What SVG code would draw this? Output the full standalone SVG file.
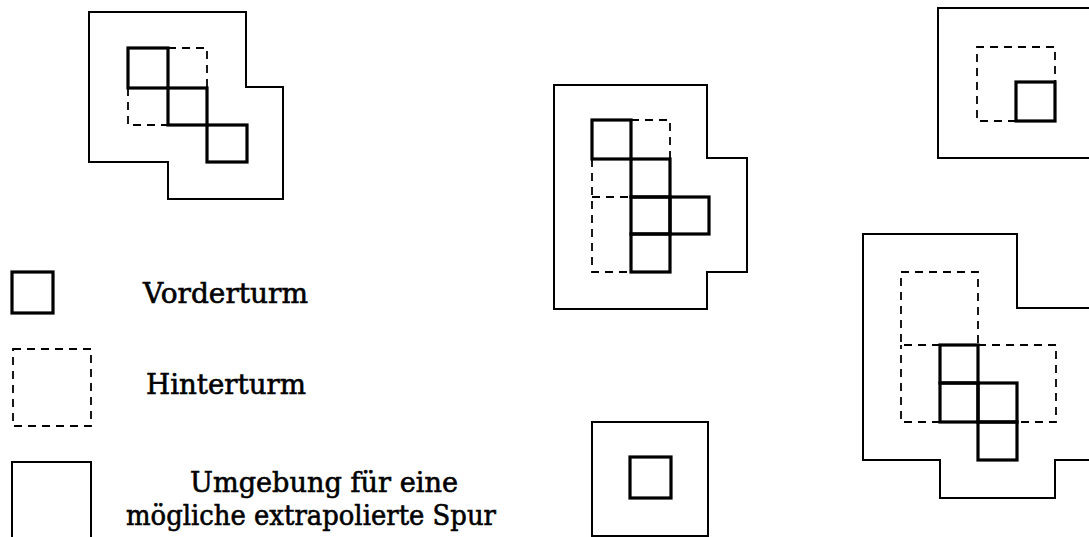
<svg xmlns="http://www.w3.org/2000/svg" width="1089" height="537" viewBox="0 0 1089 537">
<style>
.env{fill:none;stroke:#000;stroke-width:2;stroke-linejoin:miter}
.vor{fill:none;stroke:#000;stroke-width:3.2;stroke-linejoin:miter}
.hin{fill:none;stroke:#000;stroke-width:1.8;stroke-dasharray:8 6}
.lbl{font-family:"DejaVu Serif","Liberation Serif",serif;font-size:27px;fill:#000;stroke:#000;stroke-width:0.6}
</style>
<rect width="1089" height="537" fill="#fff"/>

<g id="fig-top-left">
<path class="env" d="M89,12 H246 V87 H283 V199 H168 V162 H89 Z"/>
<path class="hin" d="M168,48 H207 V88 M128,88 V125 H168"/>
<rect class="vor" x="128" y="48" width="40" height="40"/>
<rect class="vor" x="168" y="88" width="39" height="37"/>
<rect class="vor" x="207" y="125" width="40" height="37"/>
</g>

<g id="fig-middle">
<path class="env" d="M554,85 H707 V158 H747 V272 H707 V309 H554 Z"/>
<path class="hin" d="M631,120 H670 V159 M592,159 V272 H631 M592,197 H631"/>
<rect class="vor" x="592" y="120" width="39" height="39"/>
<rect class="vor" x="631" y="159" width="39" height="38"/>
<rect class="vor" x="631" y="197" width="39" height="37"/>
<rect class="vor" x="631" y="234" width="39" height="38"/>
<rect class="vor" x="670" y="197" width="39" height="37"/>
</g>

<g id="fig-top-right">
<path class="env" d="M1092,8 H938 V158 H1092"/>
<path class="hin" d="M1016,121 H977 V47 H1055 V82"/>
<rect class="vor" x="1016" y="82" width="39" height="39"/>
</g>

<g id="fig-bottom-right">
<path class="env" d="M1092,308 H1017 V234 H863 V460 H940 V498 H1055 V460 H1092"/>
<path class="hin" d="M940,345 H901 V272 H978 V345 M978,345 H1056 V422 H1017 M940,422 H901 V345"/>
<rect class="vor" x="940" y="345" width="38" height="38"/>
<rect class="vor" x="940" y="383" width="38" height="39"/>
<rect class="vor" x="978" y="383" width="39" height="39"/>
<rect class="vor" x="978" y="422" width="39" height="38"/>
</g>

<g id="fig-bottom-middle">
<rect class="env" x="592" y="422" width="116" height="114"/>
<rect class="vor" x="630" y="457" width="41" height="41"/>
</g>

<g id="legend-vorderturm">
<rect class="vor" x="12" y="272" width="41" height="41"/>
<text class="lbl" x="143" y="303" textLength="165" lengthAdjust="spacingAndGlyphs">Vorderturm</text>
</g>

<g id="legend-hinterturm">
<rect class="hin" x="13" y="349" width="78" height="77"/>
<text class="lbl" x="146" y="394" textLength="160" lengthAdjust="spacingAndGlyphs">Hinterturm</text>
</g>

<g id="legend-umgebung">
<rect class="env" x="12" y="462" width="79" height="76"/>
<text class="lbl" x="190" y="492" textLength="268" lengthAdjust="spacingAndGlyphs">Umgebung für eine</text>
<text class="lbl" x="126" y="525" textLength="370" lengthAdjust="spacingAndGlyphs">mögliche extrapolierte Spur</text>
</g>
</svg>
